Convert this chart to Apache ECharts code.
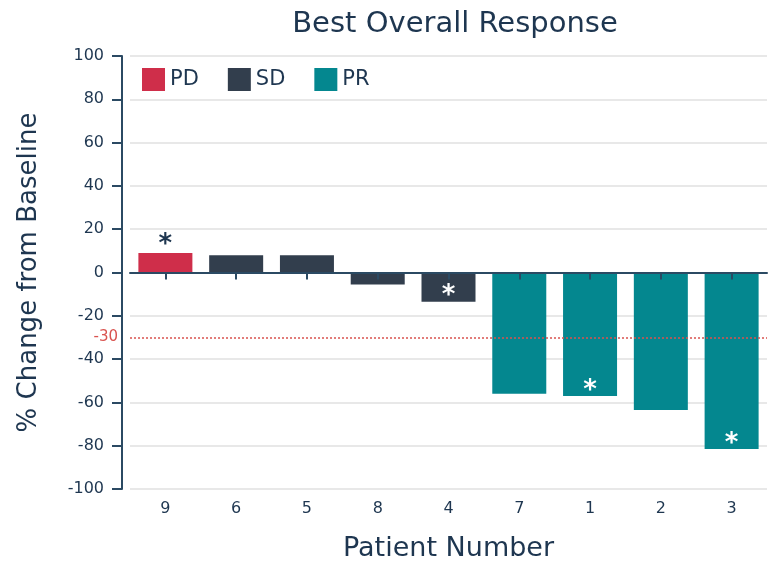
<!DOCTYPE html>
<html>
<head>
<meta charset="utf-8">
<script src="https://cdn.jsdelivr.net/npm/echarts@6/dist/echarts.min.js"></script>
<style>
  html, body { margin: 0; padding: 0; background: #fff; }
  #chart { width: 783px; height: 565px; }
</style>
</head>
<body>
<div id="chart"></div>
<script>
// patient order as on the x axis
const patients = ['9', '6', '5', '8', '4', '7', '1', '2', '3'];
const changes = [9, 8, 8, -5.5, -13.5, -56, -57, -63.5, -81.5];
const responses = ['PD', 'SD', 'SD', 'SD', 'SD', 'PR', 'PR', 'PR', 'PR'];
const starred = [true, false, false, false, true, false, true, false, true];
const responseTypes = ['PD', 'SD', 'PR'];
const yTicks = [-100, -80, -60, -40, -20, 0, 20, 40, 60, 80, 100];
const threshold = -30;

const colors = { PD: '#cf2e4a', SD: '#323e4d', PR: '#04878f' };
const navy = '#1e3650';
const font = '"DejaVu Sans", sans-serif';

const chart = echarts.init(document.getElementById('chart'));

const series = responseTypes.map(function (type) {
  return {
    name: type,
    type: 'bar',
    stack: 'all',
    barWidth: 54,
    itemStyle: { color: colors[type] },
    data: changes.map(function (v, i) {
      if (responses[i] !== type) return '-';
      if (!starred[i]) return v;
      const up = v > 0;
      return {
        value: v,
        label: {
          show: true,
          formatter: '*',
          position: up ? 'top' : 'insideBottom',
          distance: 0,
          offset: up ? [0, 5] : [0, 8],
          color: up ? navy : '#ffffff',
          fontSize: 26,
          fontWeight: 'bold',
          fontFamily: font
        }
      };
    })
  };
});

series[0].markLine = {
  silent: true,
  symbol: 'none',
  lineStyle: { color: '#d9534f', type: [2, 2], width: 1.5 },
  label: {
    position: 'start',
    distance: 12,
    formatter: String(threshold),
    color: '#d9534f',
    fontSize: 15,
    fontFamily: font
  },
  data: [{ yAxis: threshold }]
};

chart.setOption({
  animation: false,
  textStyle: { fontFamily: font },
  title: {
    text: 'Best Overall Response',
    left: 450,
    textAlign: 'center',
    top: 5,
    textStyle: { fontSize: 29, fontWeight: 'normal', color: navy, fontFamily: font }
  },
  legend: {
    data: responseTypes,
    left: 142,
    top: 68,
    padding: 0,
    icon: 'rect',
    itemWidth: 23,
    itemHeight: 23,
    itemGap: 29,
    textStyle: { fontSize: 21, color: navy, fontFamily: font }
  },
  grid: { left: 130, right: 16, top: 56, bottom: 76, outerBoundsMode: 'none' },
  xAxis: [
    {
      type: 'category',
      data: patients,
      position: 'bottom',
      axisLine: { show: false, onZero: false },
      axisTick: { show: false },
      axisLabel: { fontSize: 16, color: navy, margin: 12, fontFamily: font },
      name: 'Patient Number',
      nameLocation: 'middle',
      nameGap: 46,
      nameTextStyle: { fontSize: 27, color: navy, fontFamily: font }
    },
    {
      type: 'category',
      data: patients,
      position: 'bottom',
      z: 5,
      axisLine: { onZero: true, lineStyle: { color: '#2b4a63', width: 2 } },
      axisTick: { show: true, length: 7, alignWithLabel: true, lineStyle: { color: '#2b4a63', width: 2 } },
      axisLabel: { show: false }
    }
  ],
  yAxis: {
    type: 'value',
    min: yTicks[0],
    max: yTicks[yTicks.length - 1],
    interval: 20,
    offset: 8,
    axisLine: { show: true, lineStyle: { color: '#2b4a63', width: 2 } },
    axisTick: { show: true, length: 10, lineStyle: { color: '#2b4a63', width: 2 } },
    axisLabel: { fontSize: 16, color: navy, margin: 18, fontFamily: font },
    splitLine: { lineStyle: { color: '#e8e8e8', width: 2 } },
    name: '% Change from Baseline',
    nameLocation: 'middle',
    nameGap: 80,
    nameTextStyle: { fontSize: 26, color: navy, fontFamily: font }
  },
  series: series
});
</script>
</body>
</html>
